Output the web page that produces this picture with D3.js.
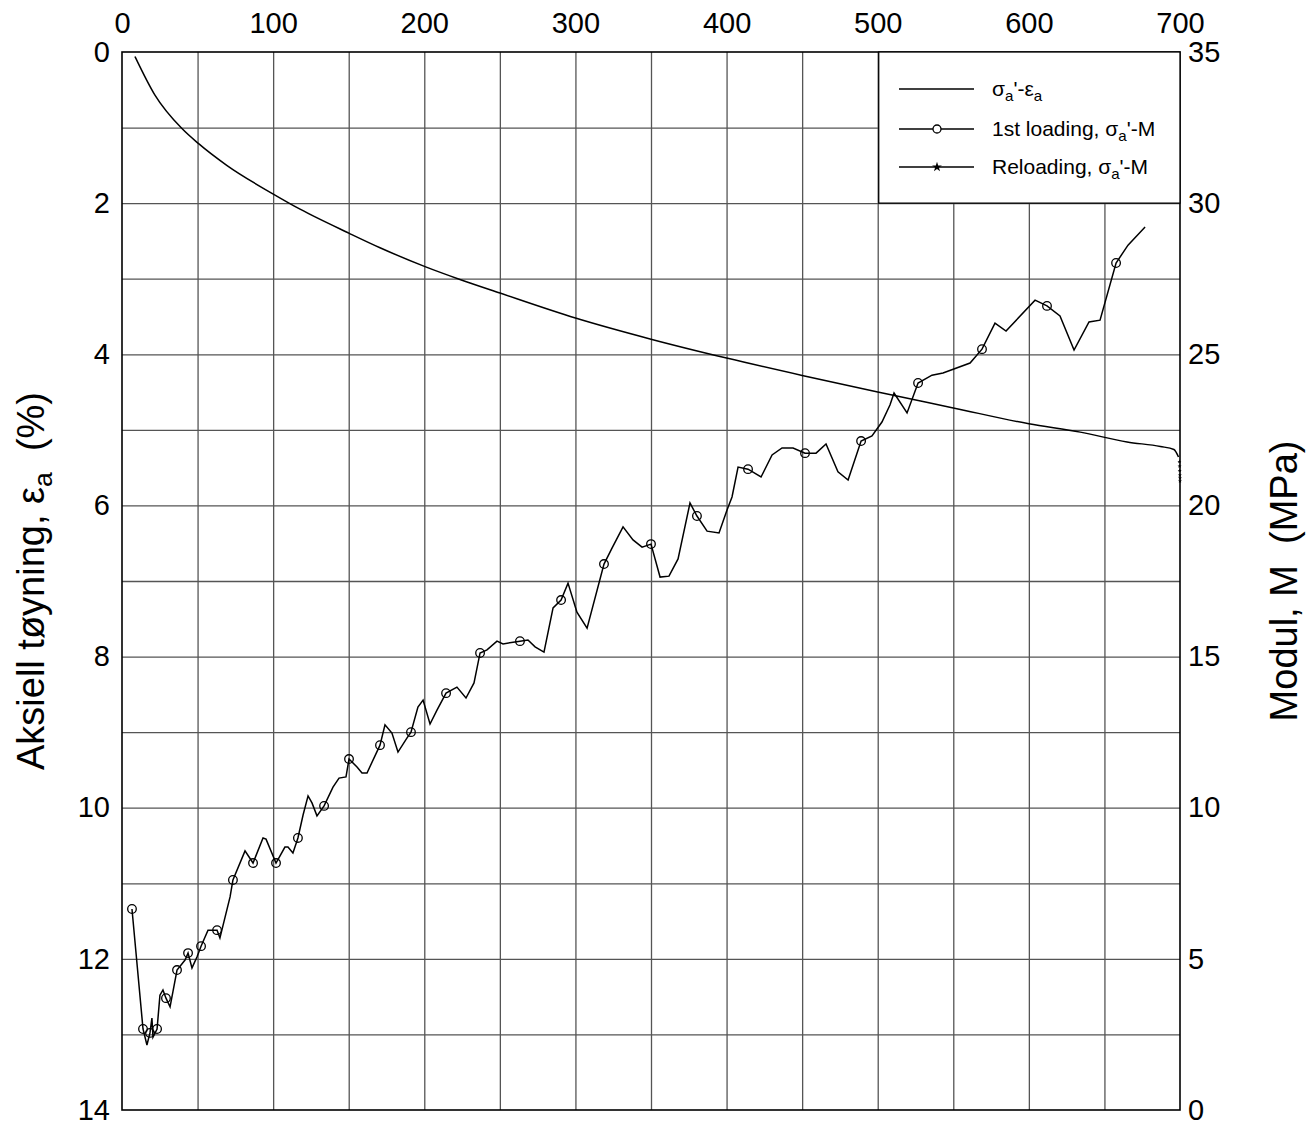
<!DOCTYPE html>
<html>
<head>
<meta charset="utf-8">
<script src="https://cdn.jsdelivr.net/npm/d3@7"></script>
<style>
  html, body { margin: 0; padding: 0; background: #fff; }
  svg { display: block; font-family: "Liberation Sans", Arial, sans-serif; }
</style>
</head>
<body>
<svg id="chart" width="1306" height="1126"></svg>
<script>
// ---- Data ----
const xTicks = [0, 100, 200, 300, 400, 500, 600, 700];
const leftTicks = [0, 2, 4, 6, 8, 10, 12, 14];
const rightTicks = [0, 5, 10, 15, 20, 25, 30, 35];

// sigma_a' - epsilon_a curve (stress kPa, strain %)
const strainStress = [8.6, 21.8, 39.5, 50.5, 69.3, 100.1, 117.8, 150.4, 170.7, 200.5, 223.6, 250.1, 300, 350, 400, 450, 500, 550, 600, 634, 665, 687, 696, 699];
const strainValues = [0.06, 0.57, 1.01, 1.21, 1.50, 1.88, 2.08, 2.40, 2.59, 2.84, 3.01, 3.19, 3.52, 3.80, 4.05, 4.28, 4.50, 4.71, 4.92, 5.03, 5.16, 5.22, 5.26, 5.36];

// 1st loading, sigma_a' - M (stress kPa, modulus MPa)
const loadStress = [6.6, 13.9, 16.5, 18.5, 19.8, 20.5, 23.2, 25.1, 27.1, 29.1, 31.8, 36.4, 41.7, 43.7, 46.3, 49.6, 52.3, 56.9, 62.9, 64.8,
  71.5, 73.4, 81.4, 86.7, 93.3, 95.3, 101.9, 107.8, 109.8, 113.1, 116.4, 119.8, 123.1, 125.7, 129.0, 133.7, 139.6, 143.6, 148.2, 150.2,
  155.5, 158.8, 162.1, 170.7, 174.0, 178.6, 182.6, 188.6, 191.2, 195.8, 199.2, 203.8, 208.4, 214.4, 221.6, 227.6, 232.9, 236.9, 241.5, 248.1,
  252.1, 263.3, 268.6, 273.3, 279.2, 285.2, 290.5, 295.1, 301.0, 307.7, 318.9, 324.2, 331.5, 338.1, 344.1, 350.0, 356.0, 361.9, 367.9, 375.8,
  380.4, 387.1, 395.0, 400.3, 403.6, 407.6, 414.2, 422.8, 430.1, 436.7, 444.0, 451.9, 459.2, 465.8, 473.7, 480.4, 489.0, 496.2, 502.8, 508.1,
  510.8, 519.4, 526.7, 535.9, 543.2, 561.1, 569.0, 577.6, 584.9, 604.1, 612.0, 620.6, 629.9, 639.8, 647.1, 657.7, 665.6, 676.9];
const loadModulus = [6.65, 2.68, 2.15, 2.55, 3.04, 2.41, 2.68, 3.80, 3.97, 3.70, 3.41, 4.63, 4.96, 5.19, 4.70, 5.06, 5.42, 5.95, 5.95, 5.69,
  7.05, 7.61, 8.57, 8.17, 9.00, 8.96, 8.17, 8.70, 8.70, 8.50, 9.00, 9.76, 10.39, 10.16, 9.73, 10.06, 10.68, 10.98, 11.02, 11.61,
  11.35, 11.15, 11.15, 12.07, 12.74, 12.47, 11.84, 12.31, 12.50, 13.33, 13.56, 12.77, 13.23, 13.79, 13.99, 13.63, 14.13, 15.12, 15.22, 15.51,
  15.42, 15.51, 15.55, 15.32, 15.15, 16.61, 16.87, 17.43, 16.47, 15.94, 18.06, 18.59, 19.29, 18.86, 18.62, 18.72, 17.63, 17.66, 18.23, 20.08,
  19.65, 19.15, 19.09, 19.85, 20.28, 21.27, 21.20, 20.94, 21.67, 21.90, 21.90, 21.73, 21.73, 22.03, 21.11, 20.84, 22.13, 22.30, 22.76, 23.32,
  23.72, 23.06, 24.05, 24.31, 24.38, 24.71, 25.17, 26.03, 25.77, 26.79, 26.60, 26.27, 25.14, 26.07, 26.13, 28.02, 28.61, 29.21];
// 1 = measured point drawn with a circle marker
const loadMarked = [1, 1, 0, 1, 0, 0, 1, 0, 0, 1, 0, 1, 0, 1, 0, 0, 1, 0, 1, 0,
  0, 1, 0, 1, 0, 0, 1, 0, 0, 0, 1, 0, 0, 0, 0, 1, 0, 0, 0, 1,
  0, 0, 0, 1, 0, 0, 0, 0, 1, 0, 0, 0, 0, 1, 0, 0, 0, 1, 0, 0,
  0, 1, 0, 0, 0, 0, 1, 0, 0, 0, 1, 0, 0, 0, 0, 1, 0, 0, 0, 0,
  1, 0, 0, 0, 0, 0, 1, 0, 0, 0, 0, 1, 0, 0, 0, 0, 1, 0, 0, 0,
  0, 0, 1, 0, 0, 0, 1, 0, 0, 0, 1, 0, 0, 0, 0, 1, 0, 0];

// Reloading, sigma_a' - M
const reloadStress = [699.6, 699.7, 699.8, 699.9, 700.0, 700.0];
const reloadModulus = [21.45, 21.3, 21.15, 21.0, 20.9, 20.8];

// ---- Layout ----
const L = 122, R = 1180, T = 52, B = 1110;
const svg = d3.select("#chart");
const x = d3.scaleLinear().domain([0, 700]).range([L, R]);
const yL = d3.scaleLinear().domain([0, 14]).range([T, B]);
const yR = d3.scaleLinear().domain([0, 35]).range([B, T]);

// grid
const grid = svg.append("g");
grid.append("g").attr("transform", `translate(0,${B})`)
  .call(d3.axisBottom(x).tickValues(d3.range(50, 700, 50)).tickSize(-(B - T)).tickFormat(""))
  .call(g => g.select(".domain").remove())
  .call(g => g.selectAll("line").attr("stroke", "#555").attr("stroke-width", 1.3));
grid.append("g").attr("transform", `translate(${L},0)`)
  .call(d3.axisLeft(yL).tickValues(d3.range(1, 14, 1)).tickSize(-(R - L)).tickFormat(""))
  .call(g => g.select(".domain").remove())
  .call(g => g.selectAll("line").attr("stroke", "#555").attr("stroke-width", 1.3));

// axes labels
const tickFont = 29;
svg.append("g").attr("transform", `translate(0,${T})`)
  .call(d3.axisTop(x).tickValues(xTicks).tickSize(0).tickPadding(19))
  .call(g => g.select(".domain").remove())
  .call(g => g.selectAll("text").attr("font-size", tickFont).attr("font-family", "Liberation Sans, Arial, sans-serif").attr("fill", "#000"));
svg.append("g").attr("transform", `translate(${L},0)`)
  .call(d3.axisLeft(yL).tickValues(leftTicks).tickSize(0).tickPadding(12))
  .call(g => g.select(".domain").remove())
  .call(g => g.selectAll("text").attr("font-size", tickFont).attr("font-family", "Liberation Sans, Arial, sans-serif").attr("fill", "#000"));
svg.append("g").attr("transform", `translate(${R},0)`)
  .call(d3.axisRight(yR).tickValues(rightTicks).tickSize(0).tickPadding(8))
  .call(g => g.select(".domain").remove())
  .call(g => g.selectAll("text").attr("font-size", tickFont).attr("font-family", "Liberation Sans, Arial, sans-serif").attr("fill", "#000"));

// frame
svg.append("rect").attr("x", L).attr("y", T).attr("width", R - L).attr("height", B - T)
  .attr("fill", "none").attr("stroke", "#000").attr("stroke-width", 1.6);

// axis titles
const titleFont = 38;
const lt = svg.append("text").attr("transform", `translate(44,${(T + B) / 2}) rotate(-90)`)
  .attr("text-anchor", "middle").attr("font-size", titleFont).attr("fill", "#000");
lt.append("tspan").text("Aksiell tøyning, ");
lt.append("tspan").text("ε");
lt.append("tspan").attr("font-size", titleFont * 0.7).attr("dy", 8).text("a");
lt.append("tspan").attr("dy", -8).text("\u00a0\u00a0(%)");

svg.append("text").attr("transform", `translate(1297,${(T + B) / 2}) rotate(-90)`)
  .attr("text-anchor", "middle").attr("font-size", titleFont).attr("fill", "#000")
  .text("Modul, M\u00a0\u00a0(MPa)");

// clip
svg.append("clipPath").attr("id", "plotclip").append("rect")
  .attr("x", L).attr("y", T - 2).attr("width", R - L + 2).attr("height", B - T + 4);
const plot = svg.append("g").attr("clip-path", "url(#plotclip)");

// strain curve
const strainData = strainStress.map((s, i) => [s, strainValues[i]]);
plot.append("path").datum(strainData)
  .attr("d", d3.line().x(d => x(d[0])).y(d => yL(d[1])).curve(d3.curveMonotoneX))
  .attr("fill", "none").attr("stroke", "#000").attr("stroke-width", 1.5);

// 1st loading
const loadData = loadStress.map((s, i) => [s, loadModulus[i], loadMarked[i]]);
plot.append("path").datum(loadData)
  .attr("d", d3.line().x(d => x(d[0])).y(d => yR(d[1])))
  .attr("fill", "none").attr("stroke", "#000").attr("stroke-width", 1.5);
plot.selectAll("circle.m").data(loadData.filter(d => d[2] === 1)).join("circle")
  .attr("class", "m").attr("cx", d => x(d[0])).attr("cy", d => yR(d[1])).attr("r", 4.3)
  .attr("fill", "none").attr("stroke", "#000").attr("stroke-width", 1.3);

// reloading (stars)
const reloadData = reloadStress.map((s, i) => [s, reloadModulus[i]]);
plot.selectAll("path.star").data(reloadData).join("path")
  .attr("class", "star")
  .attr("d", d3.symbol().type(d3.symbolStar).size(5))
  .attr("transform", d => `translate(${x(d[0])},${yR(d[1])})`)
  .attr("fill", "#000");

// legend
const lg = svg.append("g");
lg.append("rect").attr("x", x(500) + 1).attr("y", T).attr("width", R - x(500) - 1).attr("height", yL(2) - T)
  .attr("fill", "#fff").attr("stroke", "#000").attr("stroke-width", 1.3);
const legFont = 21;
const rows = [
  { y: 89, marker: null, parts: [["σ", 0], ["a", 1], ["'-ε", 0], ["a", 1]] },
  { y: 129, marker: "circle", parts: [["1st loading, σ", 0], ["a", 1], ["'-M", 0]] },
  { y: 167, marker: "star", parts: [["Reloading, σ", 0], ["a", 1], ["'-M", 0]] }
];
rows.forEach(r => {
  lg.append("line").attr("x1", 899).attr("x2", 974).attr("y1", r.y).attr("y2", r.y)
    .attr("stroke", "#000").attr("stroke-width", 1.4);
  if (r.marker === "circle") {
    lg.append("circle").attr("cx", 937).attr("cy", r.y).attr("r", 4).attr("fill", "#fff")
      .attr("stroke", "#000").attr("stroke-width", 1.3);
  } else if (r.marker === "star") {
    lg.append("path").attr("d", d3.symbol().type(d3.symbolStar).size(30)).attr("transform", `translate(937,${r.y})`).attr("fill", "#000");
  }
  const t = lg.append("text").attr("x", 992).attr("y", r.y + 7).attr("font-size", legFont).attr("fill", "#000");
  let sub = false;
  r.parts.forEach(([s, isSub]) => {
    const ts = t.append("tspan").text(s);
    if (isSub && !sub) { ts.attr("dy", 5).attr("font-size", legFont * 0.72); sub = true; }
    else if (!isSub && sub) { ts.attr("dy", -5); sub = false; }
  });
});
</script>
</body>
</html>
